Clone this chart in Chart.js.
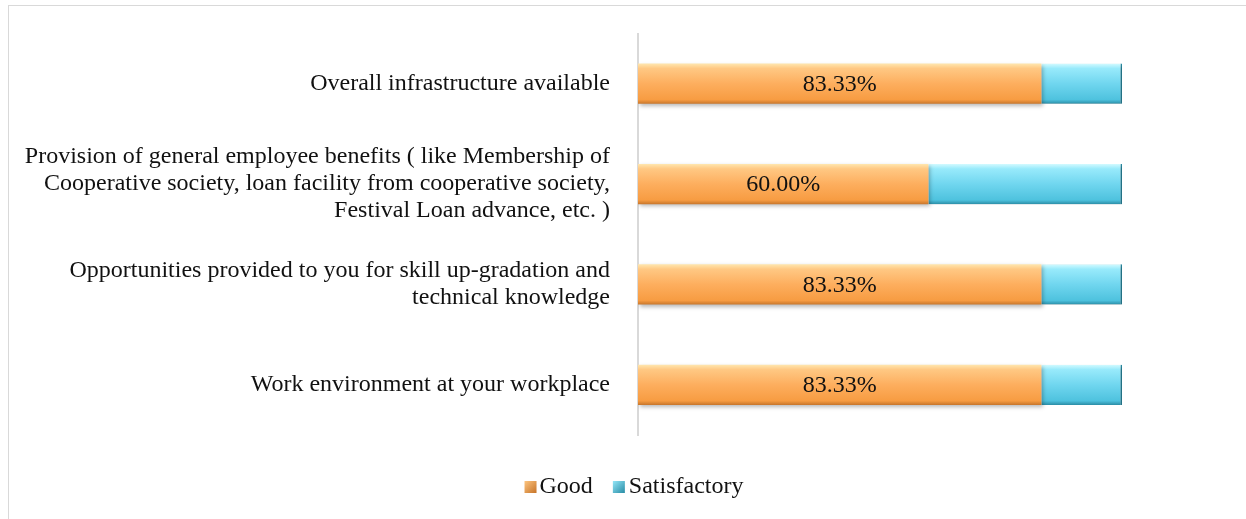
<!DOCTYPE html>
<html>
<head>
<meta charset="utf-8">
<script src="https://cdn.jsdelivr.net/npm/chart.js@4/dist/chart.umd.min.js"></script>
<style>
  html, body { margin: 0; padding: 0; background: #fff; }
  #wrap { position: relative; width: 1246px; height: 519px; overflow: hidden; }
  #frame { position: absolute; left: 8px; top: 5px; right: -2px; bottom: -2px;
           border-top: 1.5px solid #D9D9D9; border-left: 1.5px solid #D9D9D9; }
  canvas { position: absolute; left: 0; top: 0; }
</style>
</head>
<body>
<div id="wrap">
  <div id="frame"></div>
  <canvas id="chart" width="1246" height="519"></canvas>
</div>
<script>
// categories (top to bottom) and the two series, in percent
const categories = [
    ['Overall infrastructure available'],
    ['Provision of general employee benefits ( like Membership of', 'Cooperative society, loan facility from cooperative society,', 'Festival Loan advance, etc. )'],
    ['Opportunities provided to you for skill up-gradation and', 'technical knowledge'],
    ['Work environment at your workplace']
];
const good = [83.33, 60.00, 83.33, 83.33];
const satisfactory = [16.67, 40.00, 16.67, 16.67];
const seriesNames = ['Good', 'Satisfactory'];

const serif = '"Liberation Serif", "DejaVu Serif", serif';
const orangeStops = ['#FFE6AE', '#FFC883', '#FDAE5E', '#F79C42', '#C9772C'];
const cyanStops = ['#D2FAFF', '#98EAFB', '#70D6EF', '#4EC2DE', '#2C8FA8'];
const BAR_H = 40;

// vertical gradient across each bar, a bit like the office bevel
function barGradient(c, stops) {
    const chart = c.chart;
    const yScale = chart.scales.y;
    if (!chart.chartArea || !yScale || c.dataIndex === undefined) return stops[2];
    const yc = yScale.getPixelForValue(c.dataIndex);
    const g = chart.ctx.createLinearGradient(0, yc - BAR_H / 2, 0, yc + BAR_H / 2);
    g.addColorStop(0, stops[0]);
    g.addColorStop(0.12, stops[1]);
    g.addColorStop(0.5, stops[2]);
    g.addColorStop(0.9, stops[3]);
    g.addColorStop(1, stops[4]);
    return g;
}

// soft shadow under the bars
const barShadow = {
    id: 'barShadow',
    beforeDatasetsDraw(chart) {
        const c = chart.ctx;
        c.save();
        c.shadowColor = 'rgba(0,0,0,0.28)';
        c.shadowBlur = 4;
        c.shadowOffsetX = 2;
        c.shadowOffsetY = 2;
    },
    afterDatasetsDraw(chart) {
        chart.ctx.restore();
    }
};

// percentage in the middle of the Good bars
const valueLabels = {
    id: 'valueLabels',
    afterDatasetsDraw(chart) {
        const c = chart.ctx;
        const meta = chart.getDatasetMeta(0);
        c.save();
        c.font = '24px ' + serif;
        c.fillStyle = '#111';
        c.textAlign = 'center';
        c.textBaseline = 'middle';
        meta.data.forEach(function(bar, i) {
            c.fillText(good[i].toFixed(2) + '%', (bar.base + bar.x) / 2, bar.y + 1);
        });
        c.restore();
    }
};

// legend drawn by hand so the box sits close to its text
const smallLegend = {
    id: 'smallLegend',
    afterDraw(chart) {
        const c = chart.ctx;
        const y = 486;
        c.save();
        c.font = '24px ' + serif;
        c.textBaseline = 'middle';
        c.textAlign = 'left';
        const widths = seriesNames.map(function(n) { return c.measureText(n).width; });
        const total = 12 + 3 + widths[0] + 20 + 12 + 4 + widths[1];
        let x = chart.width / 2 + 11 - total / 2;
        seriesNames.forEach(function(name, i) {
            const g = c.createLinearGradient(x, y - 6, x + 12, y + 6);
            const st = i === 0 ? orangeStops : cyanStops;
            g.addColorStop(0, st[1]);
            g.addColorStop(1, st[4]);
            c.fillStyle = g;
            c.fillRect(x, y - 5, 12, 12);
            x += 15 + (i === 1 ? 1 : 0);
            c.fillStyle = '#111';
            c.fillText(name, x, y + 1);
            x += widths[i] + 20;
        });
        c.restore();
    }
};

const ctx = document.getElementById('chart').getContext('2d');

new Chart(ctx, {
    type: 'bar',
    data: {
        labels: categories,
        datasets: [{
            label: seriesNames[0],
            data: good,
            backgroundColor: function(c) { return barGradient(c, orangeStops); },
            borderWidth: 0,
            barPercentage: 0.8,
            categoryPercentage: 0.5
        }, {
            label: seriesNames[1],
            data: satisfactory,
            backgroundColor: function(c) { return barGradient(c, cyanStops); },
            borderColor: '#2C8FA8',
            borderWidth: { bottom: 0, top: 0, left: 0, right: 1.5 },
            borderSkipped: false,
            barPercentage: 0.8,
            categoryPercentage: 0.5
        }]
    },
    options: {
        indexAxis: 'y',
        responsive: false,
        animation: false,
        layout: { padding: { left: 0, right: 124, top: 29, bottom: 84 } },
        scales: {
            x: {
                stacked: true,
                min: 0,
                max: 100,
                display: false
            },
            y: {
                stacked: true,
                grid: { display: false },
                border: { display: true, color: '#D9D9D9', width: 2 },
                ticks: {
                    color: '#111',
                    padding: 20,
                    font: { family: serif, size: 24, lineHeight: 1.125 }
                },
                afterFit: function(scale) { scale.width = 638; }
            }
        },
        plugins: {
            legend: { display: false },
            tooltip: { enabled: false }
        }
    },
    plugins: [barShadow, valueLabels, smallLegend]
});
</script>
</body>
</html>
